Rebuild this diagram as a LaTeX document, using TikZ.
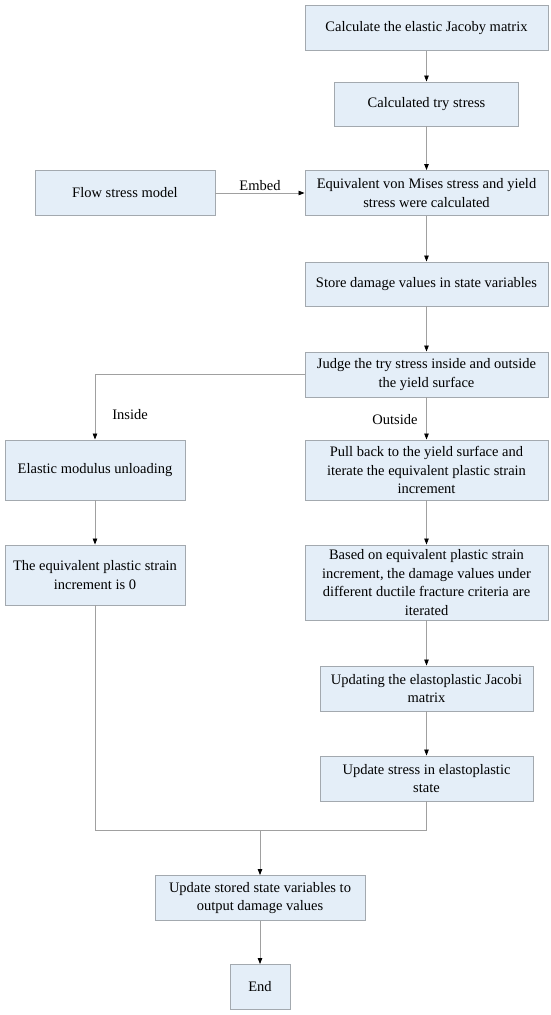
\documentclass[tikz,border=0pt]{standalone}
\usepackage{fontspec}
\setmainfont{Liberation Serif}
\usetikzlibrary{arrows.meta,positioning,calc}
\definecolor{boxfill}{HTML}{E4EEF8}
\definecolor{boxline}{HTML}{A3A9AF}
\definecolor{conline}{HTML}{A0A0A0}
\begin{document}
\begin{tikzpicture}[x=1pt,y=-1pt,
  box/.style={draw=boxline,fill=boxfill,line width=0.9pt,align=center,inner sep=2pt,
    font=\fontsize{14.5}{18.5}\selectfont},
  con/.style={draw=conline,line width=0.8pt},
  arr/.style={con,-{Triangle[black,width=4.5pt,length=6pt]}},
  lab/.style={font=\fontsize{14.5}{16}\selectfont,inner sep=1pt}]
\useasboundingbox (0,0) rectangle (550,1015);
\node[box,minimum width=243pt,minimum height=45pt] (b1) at (426.5,28) {Calculate the elastic Jacoby matrix};
\node[box,minimum width=184pt,minimum height=44pt] (b2) at (426.5,104) {Calculated try stress};
\node[box,minimum width=243pt,minimum height=45pt] (b3) at (426.5,193) {Equivalent von Mises stress and yield\\stress were calculated};
\node[box,minimum width=180pt,minimum height=45pt] (flow) at (125,193) {Flow stress model};
\node[box,minimum width=243pt,minimum height=44pt] (b4) at (426.5,284) {Store damage values in state variables};
\node[box,minimum width=243pt,minimum height=45pt] (b5) at (426.5,374.5) {Judge the try stress inside and outside\\the yield surface};
\node[box,minimum width=180pt,minimum height=60pt] (b6) at (95,470) {Elastic modulus unloading};
\node[box,minimum width=243pt,minimum height=60pt] (b7) at (426.5,470) {Pull back to the yield surface and\\iterate the equivalent plastic strain\\increment};
\node[box,minimum width=180pt,minimum height=60pt] (b8) at (95,575) {The equivalent plastic strain\\increment is 0};
\node[box,minimum width=243pt,minimum height=75pt] (b9) at (426.5,582.5) {Based on equivalent plastic strain\\increment, the damage values under\\different ductile fracture criteria are\\iterated};
\node[box,minimum width=213pt,minimum height=45pt] (b10) at (426.5,688.5) {Updating the elastoplastic Jacobi\\matrix};
\node[box,minimum width=213pt,minimum height=45pt] (b11) at (426.5,778.5) {Update stress in elastoplastic\\state};
\node[box,minimum width=210pt,minimum height=45pt] (b12) at (260,898) {Update stored state variables to\\output damage values};
\node[box,minimum width=60pt,minimum height=45pt] (b13) at (260,987) {End};
\coordinate (mL) at (95,830.5);
\coordinate (mR) at (426.5,830.5);
\coordinate (mC) at (260,830.5);
\draw[arr] (b1) -- (b2);
\draw[arr] (b2) -- (b3);
\draw[arr] (flow) -- node[lab,above=1pt] {Embed} (b3);
\draw[arr] (b3) -- (b4);
\draw[arr] (b4) -- (b5);
\draw[arr] (b5.west) -| (b6.north);
\node[lab] (ins) at (130,415) {Inside};
\draw[arr] (b5) -- (b7);
\node[lab] (outs) at (395,420) {Outside};
\draw[arr] (b6) -- (b8);
\draw[arr] (b7) -- (b9);
\draw[arr] (b9) -- (b10);
\draw[arr] (b10) -- (b11);
\draw[con] (b8.south) -- (mL) -- (mR) -- (b11.south);
\draw[arr] (mC) -- (b12.north);
\draw[arr] (b12) -- (b13);
\end{tikzpicture}
\end{document}
